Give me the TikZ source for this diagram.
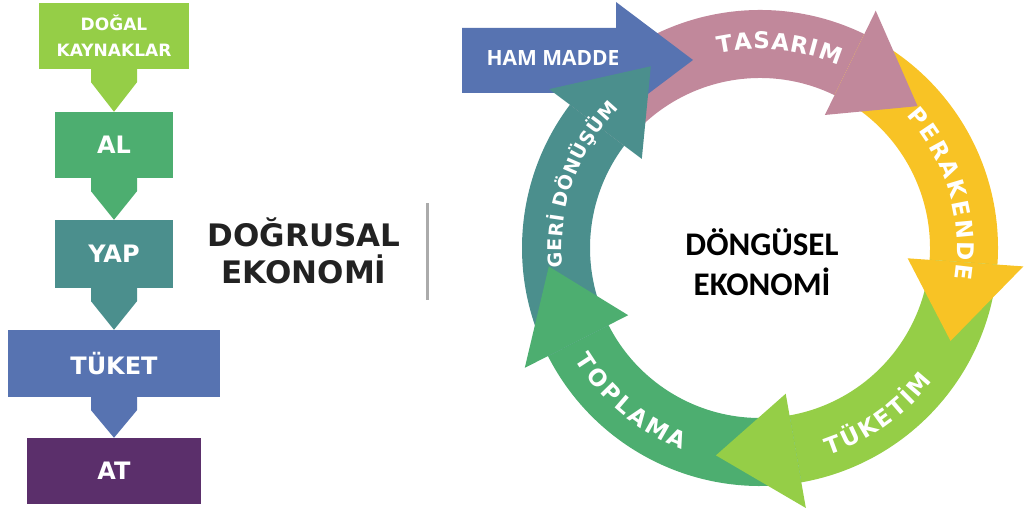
\documentclass[tikz,border=0pt]{standalone}
\usepackage{fontspec}
\setmainfont{Open Sans}
\newfontfamily\widefont{DejaVu Sans}
\newfontfamily\calibri{Carlito}

\definecolor{cLime}{HTML}{95CE47}
\definecolor{cGreen}{HTML}{4DAE70}
\definecolor{cTeal}{HTML}{4B8F8D}
\definecolor{cBlue}{HTML}{5773B1}
\definecolor{cPurple}{HTML}{5B2F6B}
\definecolor{cPink}{HTML}{C1889B}
\definecolor{cYellow}{HTML}{F8C325}
\definecolor{cInk}{HTML}{222222}
\definecolor{cRule}{HTML}{ABABAB}

\newcommand{\ringfont}{\widefont\fontsize{23}{23}\selectfont\bfseries\color{white}}
\newcommand{\ringsmall}{\widefont\fontsize{19}{19}\selectfont\bfseries\color{white}}

% letters on a circle: font, size, radius, centre angle, direction (-1 cw, 1 ccw), tracking, letter/em list
\newcommand{\ringword}[7]{%
  \xdef\ringlen{0}%
  \foreach \ch/\w in {#7} {%
    \pgfmathsetmacro\ringtmp{\ringlen+\w*#2+#6}%
    \xdef\ringlen{\ringtmp}}%
  \pgfmathsetmacro\ringtmp{#4-(#5)*(\ringlen-#6)/2/#3*180/pi}%
  \xdef\ringang{\ringtmp}%
  \foreach \ch/\w in {#7} {%
    \pgfmathsetmacro\chang{\ringang+(#5)*(\w*#2/2)/#3*180/pi}%
    \node[font=#1,anchor=base,rotate={\chang+(#5)*90}] at (\chang:#3) {\ch};
    \pgfmathsetmacro\ringtmp{\ringang+(#5)*(\w*#2+#6)/#3*180/pi}%
    \xdef\ringang{\ringtmp}}%
}

\begin{document}
\begin{tikzpicture}
  [x=1pt,y=1pt,every node/.style={inner sep=0pt}]
  \tikzstyle{stepbox} = [rectangle,minimum height=66pt,text=white,align=center,
    font=\widefont\fontsize{24}{26}\selectfont\bfseries]
  \useasboundingbox (0,0) rectangle (1025,510);

  % dogrusal ekonomi
  \node[stepbox,fill=cLime,minimum width=150pt,
    font=\widefont\fontsize{17}{26}\selectfont\bfseries] (kaynak) at (114,474) {DOĞAL\\KAYNAKLAR};
  \node[stepbox,fill=cGreen,minimum width=118pt] (al) at (114,365) {AL};
  \node[stepbox,fill=cTeal,minimum width=118pt,minimum height=68pt] (yap) at (114,256) {YAP};
  \node[stepbox,fill=cBlue,minimum width=212pt,minimum height=67pt] (tuket) at (114,146.5) {TÜKET};
  \node[stepbox,fill=cPurple,minimum width=174pt] (atik) at (114,39) {AT};

  \foreach \from/\to/\col in {kaynak/al/cLime,al/yap/cGreen,yap/tuket/cTeal,tuket/atik/cBlue}
    \fill[\col] ([xshift=-23pt]\from.south) -- ([xshift=-23pt,yshift=-13pt]\from.south)
      -- (\to.north) -- ([xshift=23pt,yshift=-13pt]\from.south) -- ([xshift=23pt]\from.south) -- cycle;

  \node[text=cInk,align=center,font=\widefont\fontsize{31}{37}\selectfont\bfseries] (dogrusal) at (304,259) {DOĞRUSAL\\EKONOMİ};
  \draw[cRule,line width=3pt] (427,210) -- (427,307);

  % dongusel ekonomi
  \begin{scope}[shift={(760,262)}]
    \foreach \col/\s/\e in {cPink/143/64,cYellow/64/-4,cLime/-4/-80,cGreen/-80/-153,cTeal/-153/-217}
      \fill[\col] (\s:238) arc[start angle=\s,end angle=\e,radius=238]
        -- (\e:170) arc[start angle=\e,end angle=\s,radius=170] -- cycle;

    \fill[cBlue] (-298,155) -- (-298,220) -- (-144,220) -- (-144,246) -- (-67,188)
      -- (-144,130) -- (-144,155) -- cycle;
    \node[text=white,font=\fontsize{21}{21}\selectfont\bfseries] (hammadde) at (-207,190) {HAM MADDE};

    \foreach \col/\e in {cPink/64,cYellow/-4,cLime/-80,cGreen/-153,cTeal/-217}
      \fill[\col] (\e:264) -- ({\e-22}:212) -- (\e:148) -- cycle;

    \ringword{\ringfont}{23}{199}{84.5}{-1}{1}{T/.684,A/.774,S/.722,A/.774,R/.770,I/.372,M/.974}
    \ringword{\ringfont}{23}{197}{16.5}{-1}{2.5}{P/.734,E/.683,R/.770,A/.774,K/.776,E/.683,N/.837,D/.829,E/.683}
    \ringword{\ringfont}{23}{218}{-54.75}{1}{2.5}{T/.684,Ü/.812,K/.776,E/.683,T/.684,İ/.372,M/.974}
    \ringword{\ringfont}{23}{216}{230}{1}{3}{T/.684,O/.850,P/.734,L/.637,A/.774,M/.974,A/.774}
    \ringword{\ringsmall}{19}{198}{160.5}{-1}{0.5}{G/.821,E/.683,R/.770,İ/.372,{}/.348,D/.829,Ö/.850,N/.837,Ü/.812,Ş/.722,Ü/.812,M/.974}

    \node[align=center,font=\calibri\fontsize{33}{40}\selectfont\bfseries] (dongusel) at (2,-14) {DÖNGÜSEL\\EKONOMİ};
  \end{scope}

\end{tikzpicture}
\end{document}
